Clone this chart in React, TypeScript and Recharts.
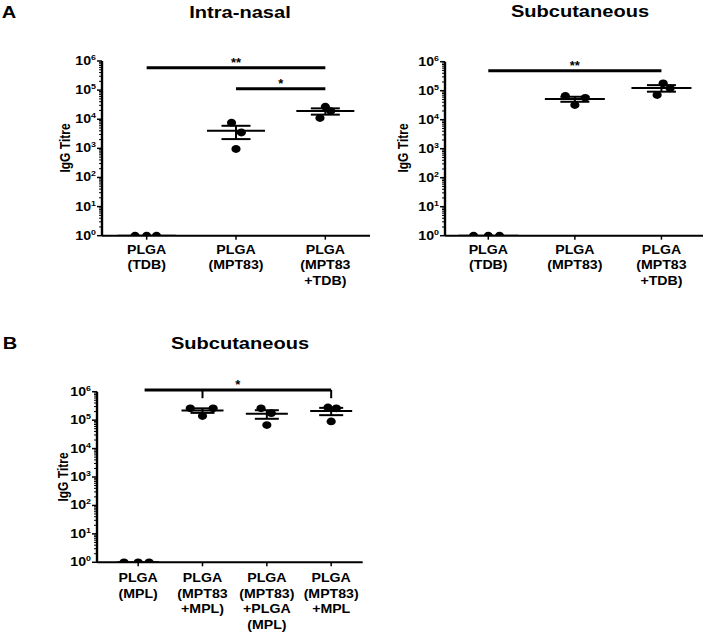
import React from 'react'
import { ScatterChart, Scatter, XAxis, YAxis, ErrorBar, ReferenceLine } from 'recharts'

const FONT = '"Liberation Sans", Arial, Helvetica, sans-serif'
const SX = 1.18 // the original figure is stretched sideways a little

// Panel A, intra-nasal
const inGroups = ['PLGA\n(TDB)', 'PLGA\n(MPT83)', 'PLGA\n(MPT83\n+TDB)']
const inValues = [
  [1, 1, 1],
  [7600, 3500, 950],
  [27000, 19000, 11000],
]
const inJitter = [[-0.13, 0, 0.11], [-0.05, 0.06, 0], [0, 0.06, -0.06]]
const inSig = [
  { from: 0, to: 2, y: 5.9e5, label: '**' },
  { from: 1, to: 2, y: 1.12e5, label: '*' },
]

// Panel A, subcutaneous
const scGroups = ['PLGA\n(TDB)', 'PLGA\n(MPT83)', 'PLGA\n(MPT83\n+TDB)']
const scValues = [
  [1, 1, 1],
  [66000, 57000, 32000],
  [180000, 121000, 71000],
]
const scJitter = [[-0.17, 0, 0.13], [-0.11, 0.12, 0], [0.02, 0.1, -0.05]]
const scSig = [{ from: 0, to: 2, y: 4.9e5, label: '**' }]

// Panel B, subcutaneous with MPL
const mplGroups = ['PLGA\n(MPL)', 'PLGA\n(MPT83\n+MPL)', 'PLGA\n(MPT83)\n+PLGA\n(MPL)', 'PLGA\n(MPT83)\n+MPL']
const mplValues = [
  [1, 1, 1],
  [260000, 260000, 140000],
  [260000, 175000, 67000],
  [280000, 260000, 90000],
]
const mplJitter = [[-0.22, 0, 0.17], [-0.19, 0.165, 0], [-0.09, 0.07, 0], [-0.05, 0.08, 0]]
const mplSig = [{ from: 0.1, to: 3, y: 1.15e6, label: '*', drops: [1, 3], dropTo: 5.9e5 }]

const majors = [1, 10, 100, 1000, 10000, 100000, 1000000]
const minorSteps = [1, 2, 3, 4, 5, 6, 7, 8, 9]
const yTicks = [...majors.slice(0, 6).flatMap(m => minorSteps.map(k => k * m)), 1000000]

type Sig = { from: number; to: number; y: number; label: string; drops?: number[]; dropTo?: number }

const YTick = (props: any) => {
  const { x, y, payload } = props
  const e = majors.indexOf(payload.value)
  if (e < 0) {
    return <line x1={x - 3} x2={x} y1={y} y2={y} stroke="#000" strokeWidth={1} />
  }
  return (
    <g transform={`translate(${x},${y})`}>
      <line x1={-5} x2={0} y1={0} y2={0} stroke="#000" strokeWidth={1.5} />
      <text
        transform={`scale(${SX},1)`}
        x={-6 / SX}
        y={4}
        textAnchor="end"
        fontFamily={FONT}
        fontWeight="bold"
        fontSize={12}
        fill="#000"
      >
        10<tspan dy={-5} fontSize={7.5}>{e}</tspan>
      </text>
    </g>
  )
}

const makeXTick = (labels: string[], first: number) => (props: any) => {
  const { x, y, payload } = props
  const lines = labels[Math.round(payload.value)].split('\n')
  return (
    <g transform={`translate(${x},${y}) scale(${SX},1)`}>
      <text textAnchor="middle" fontFamily={FONT} fontWeight="bold" fontSize={12} fill="#000">
        {lines.map((l, i) => (
          <tspan key={i} x={0} y={first + i * 15.5}>{l}</tspan>
        ))}
      </text>
    </g>
  )
}

const Dot = (props: any) => <ellipse cx={props.cx} cy={props.cy} rx={4.6} ry={3.9} fill="#000" />

const makeMean = (half: number) => (props: any) => (
  <line x1={props.cx - half} x2={props.cx + half} y1={props.cy} y2={props.cy} stroke="#000" strokeWidth={2} />
)

type PanelProps = {
  left: number
  top: number
  width: number
  height: number
  yWidth: number
  mTop: number
  mRight: number
  xHeight: number
  domain: [number, number]
  groups: string[]
  values: number[][]
  jitter: number[][]
  sig: Sig[]
  meanHalf: number
  capWidth: number
  firstLine: number
}

const Panel = (p: PanelProps) => {
  const points = p.values.flatMap((v, i) => v.map((y, j) => ({ x: i + p.jitter[i][j], y })))
  const stats = p.values.map((v, i) => {
    const n = v.length
    const mean = v.reduce((s, a) => s + a, 0) / n
    const sd = Math.sqrt(v.reduce((s, a) => s + (a - mean) ** 2, 0) / (n - 1))
    return { x: i, y: mean, err: sd / Math.sqrt(n) }
  })
  return (
    <div style={{ position: 'absolute', left: p.left, top: p.top }}>
      <ScatterChart
        width={p.width}
        height={p.height}
        margin={{ top: p.mTop, right: p.mRight, bottom: 0, left: 0 }}
      >
        <XAxis
          type="number"
          dataKey="x"
          domain={p.domain}
          allowDataOverflow
          ticks={p.groups.map((_, i) => i)}
          interval={0}
          height={p.xHeight}
          axisLine={{ stroke: '#000', strokeWidth: 2 }}
          tickLine={{ stroke: '#000', strokeWidth: 1.5 }}
          tickSize={4}
          tickMargin={0}
          tick={makeXTick(p.groups, p.firstLine)}
        />
        <YAxis
          type="number"
          dataKey="y"
          scale="log"
          domain={[1, 1000000]}
          allowDataOverflow
          ticks={yTicks}
          interval={0}
          width={p.yWidth}
          axisLine={{ stroke: '#000', strokeWidth: 2.4 }}
          tickLine={false}
          tickSize={0}
          tickMargin={0}
          tick={YTick}
        />
        <Scatter data={points} shape={Dot} isAnimationActive={false} />
        <Scatter data={stats} shape={makeMean(p.meanHalf)} isAnimationActive={false}>
          <ErrorBar dataKey="err" direction="y" width={p.capWidth} stroke="#000" strokeWidth={2} />
        </Scatter>
        {p.sig.map((s, i) => (
          <ReferenceLine
            key={`s${i}`}
            segment={[{ x: s.from, y: s.y }, { x: s.to, y: s.y }]}
            stroke="#000"
            strokeWidth={3}
            ifOverflow="visible"
            label={{ value: s.label, position: 'top', offset: 1, fill: '#000', fontFamily: FONT, fontWeight: 'bold', fontSize: 13 }}
          />
        ))}
        {p.sig.flatMap((s, i) =>
          (s.drops || []).map((d, j) => (
            <ReferenceLine
              key={`d${i}-${j}`}
              segment={[{ x: d, y: s.y }, { x: d, y: s.dropTo as number }]}
              stroke="#000"
              strokeWidth={2}
              ifOverflow="visible"
            />
          ))
        )}
      </ScatterChart>
    </div>
  )
}

const textBase: React.CSSProperties = {
  position: 'absolute',
  fontFamily: FONT,
  fontWeight: 'bold',
  color: '#000',
  lineHeight: 1,
  whiteSpace: 'nowrap',
}

const Title = ({ x, y, size, children }: { x: number; y: number; size: number; children: React.ReactNode }) => (
  <div style={{ ...textBase, left: x, top: y, fontSize: size, transform: `translate(-50%,-50%) scale(${SX},1)` }}>
    {children}
  </div>
)

const AxisTitle = ({ x, y }: { x: number; y: number }) => (
  <div style={{ ...textBase, left: x, top: y, fontSize: 12, transform: `translate(-50%,-50%) scale(${SX},1) rotate(-90deg)` }}>
    IgG Titre
  </div>
)

export default function App() {
  return (
    <div style={{ position: 'relative', width: 710, height: 637, background: '#fff', overflow: 'hidden' }}>
      <style>{'body{margin:0}'}</style>

      <Title x={9} y={12} size={17}>A</Title>
      <Title x={240} y={12} size={17}>Intra-nasal</Title>
      <Title x={580} y={11} size={17}>Subcutaneous</Title>
      <Title x={10} y={343} size={17}>B</Title>
      <Title x={240} y={343} size={17}>Subcutaneous</Title>

      <Panel
        left={0} top={0} width={380} height={300} yWidth={102} mTop={61} mRight={10} xHeight={64.3}
        domain={[-0.5, 2.5]} groups={inGroups} values={inValues} jitter={inJitter} sig={inSig}
        meanHalf={29} capWidth={14.5} firstLine={14}
      />
      <AxisTitle x={65} y={148} />

      <Panel
        left={380} top={0} width={330} height={300} yWidth={65} mTop={61.7} mRight={7} xHeight={64.3}
        domain={[-0.5, 2.48]} groups={scGroups} values={scValues} jitter={scJitter} sig={scSig}
        meanHalf={30} capWidth={14.5} firstLine={14}
      />
      <AxisTitle x={403} y={148} />

      <Panel
        left={0} top={330} width={375} height={307} yWidth={97} mTop={61.7} mRight={12.3} xHeight={74.7}
        domain={[-0.64, 3.49]} groups={mplGroups} values={mplValues} jitter={mplJitter} sig={mplSig}
        meanHalf={21} capWidth={12} firstLine={16}
      />
      <AxisTitle x={63} y={477} />
    </div>
  )
}
